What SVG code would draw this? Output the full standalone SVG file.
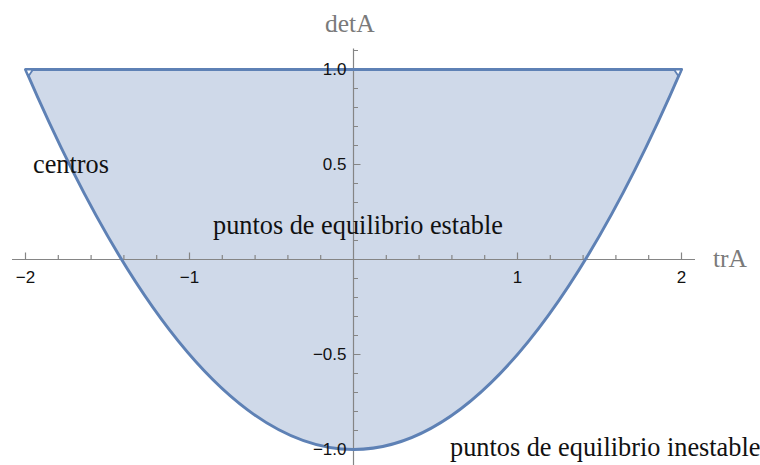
<svg xmlns="http://www.w3.org/2000/svg" width="760" height="465" viewBox="0 0 760 465">
<defs>
<style>
.axis{stroke:#858585;stroke-width:1.2;fill:none}
.tk{font-family:"Liberation Sans",Arial,sans-serif;font-size:17px;fill:#111}
.ax{font-family:"Liberation Serif","Times New Roman",serif;font-size:25.5px;fill:#7a7a7a}
.lab{font-family:"Liberation Serif","Times New Roman",serif;font-size:26.3px;fill:#111}
</style>
</defs>
<rect width="760" height="465" fill="#fff"/>
<g id="region">
<path d="M25.5,69.5 Q353.5,829.5 681.5,69.5 Z" fill="#CFD9E9"/>
</g>
<g id="axes">
<line class="axis" x1="12" y1="259.5" x2="695" y2="259.5"/>
<line class="axis" x1="353.5" y1="48.5" x2="353.5" y2="465"/>
<path class="axis" d="M25.5,259.5v-7 M189.5,259.5v-7 M517.5,259.5v-7 M681.5,259.5v-7
M58.3,259.5v-4.5 M91.1,259.5v-4.5 M123.9,259.5v-4.5 M156.7,259.5v-4.5 M222.3,259.5v-4.5 M255.1,259.5v-4.5 M287.9,259.5v-4.5 M320.7,259.5v-4.5
M386.3,259.5v-4.5 M419.1,259.5v-4.5 M451.9,259.5v-4.5 M484.7,259.5v-4.5 M550.3,259.5v-4.5 M583.1,259.5v-4.5 M615.9,259.5v-4.5 M648.7,259.5v-4.5"/>
<path class="axis" d="M353.5,69.5h7 M353.5,164.5h7 M353.5,354.5h7 M353.5,449.5h7
M353.5,50.5h4.5 M353.5,88.5h4.5 M353.5,107.5h4.5 M353.5,126.5h4.5 M353.5,145.5h4.5 M353.5,183.5h4.5 M353.5,202.5h4.5 M353.5,221.5h4.5 M353.5,240.5h4.5
M353.5,278.5h4.5 M353.5,297.5h4.5 M353.5,316.5h4.5 M353.5,335.5h4.5 M353.5,373.5h4.5 M353.5,392.5h4.5 M353.5,411.5h4.5 M353.5,430.5h4.5"/>
</g>
<g id="boundary" fill="none" stroke="#5E81B5" stroke-width="3" stroke-linejoin="round" stroke-linecap="round">
<path d="M25.5,69.5 Q353.5,829.5 681.5,69.5 Z"/>
<path d="M25.5,69.5 L33,69.5 L28.6,76 Z" fill="#fff" stroke-width="1.8"/>
<path d="M681.5,69.5 L674,69.5 L678.4,76 Z" fill="#fff" stroke-width="1.8"/>
</g>
<g id="ticklabels" class="tk">
<text x="25.5" y="282.5" text-anchor="middle">−2</text>
<text x="189.5" y="282.5" text-anchor="middle">−1</text>
<text x="517.5" y="282.5" text-anchor="middle">1</text>
<text x="681.5" y="282.5" text-anchor="middle">2</text>
<text x="346.5" y="75.3" text-anchor="end">1.0</text>
<text x="346.5" y="170.3" text-anchor="end">0.5</text>
<text x="346.5" y="360.3" text-anchor="end">−0.5</text>
<text x="346.5" y="455.3" text-anchor="end">−1.0</text>
</g>
<g id="axislabels" class="ax">
<text x="325" y="32">detA</text>
<text x="713" y="267">trA</text>
</g>
<g id="labels" class="lab">
<text x="33" y="173">centros</text>
<text x="213" y="234">puntos de equilibrio estable</text>
<text x="450" y="456">puntos de equilibrio inestable</text>
</g>
</svg>
